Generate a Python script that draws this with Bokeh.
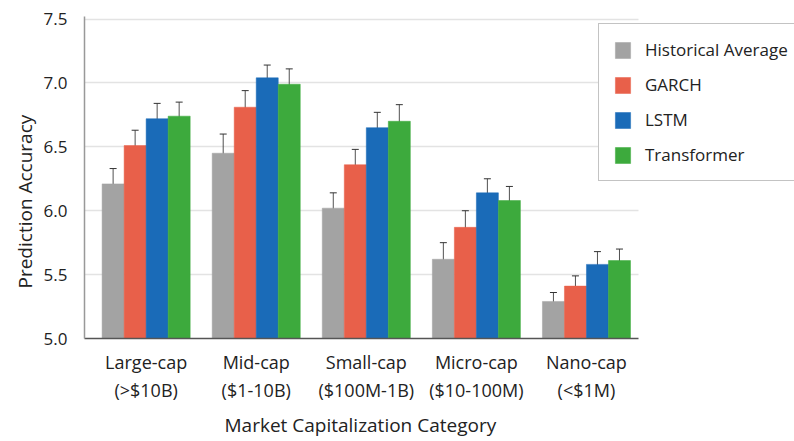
from bokeh.plotting import figure
from bokeh.models import ColumnDataSource, Whisker, Legend, LegendItem, TeeHead, FixedTicker, Title
from bokeh.embed import file_html
from bokeh.resources import INLINE

categories = ["Large-cap\n(>$10B)", "Mid-cap\n($1-10B)", "Small-cap\n($100M-1B)",
              "Micro-cap\n($10-100M)", "Nano-cap\n(<$1M)"]
series = ["Historical Average", "GARCH", "LSTM", "Transformer"]
hist = [6.21, 6.45, 6.02, 5.62, 5.29]
hist_err = [0.12, 0.15, 0.12, 0.13, 0.07]
garch = [6.51, 6.81, 6.36, 5.87, 5.41]
garch_err = [0.12, 0.13, 0.12, 0.13, 0.08]
lstm = [6.72, 7.04, 6.65, 6.14, 5.58]
lstm_err = [0.12, 0.10, 0.12, 0.11, 0.10]
transformer = [6.74, 6.99, 6.70, 6.08, 5.61]
transformer_err = [0.11, 0.12, 0.13, 0.11, 0.09]
y_ticks = [5.0, 5.5, 6.0, 6.5, 7.0, 7.5]
x_title = "Market Capitalization Category"
y_title = "Prediction Accuracy"

values = [hist, garch, lstm, transformer]
errors = [hist_err, garch_err, lstm_err, transformer_err]
colors = ["#a3a3a3", "#e8604a", "#1a6bb8", "#3daa3d"]
offsets = [-0.3, -0.1, 0.1, 0.3]
positions = list(range(len(categories)))

FONT = "Open Sans"
X_LEFT, X_AXIS_END = -0.56, 4.476

p = figure(x_range=(X_LEFT, 5.89), y_range=(5.0, 7.52),
           width=794, height=441, output_backend="svg", toolbar_location=None,
           min_border_left=84, min_border_right=0, min_border_top=16,
           min_border_bottom=101, background_fill_color="white",
           border_fill_color="white", outline_line_color=None)

items = []
for name, vals, errs, col, off in zip(series, values, errors, colors, offsets):
    xs = [x + off for x in positions]
    src = ColumnDataSource(dict(x=xs, val=vals,
                                upper=[v + e for v, e in zip(vals, errs)],
                                lower=[v - e for v, e in zip(vals, errs)]))
    r = p.vbar(x="x", top="val", bottom=5.0, width=0.2,
               source=src, fill_color=col, line_color=col, line_width=0.5)
    w = Whisker(base="x", upper="upper", lower="lower",
                source=src, line_color="#333333", line_alpha=0.85, line_width=1,
                upper_head=TeeHead(size=7, line_color="#333333", line_width=1),
                lower_head=TeeHead(size=7, line_color="#333333", line_width=1))
    p.add_layout(w)
    items.append(LegendItem(label=name, renderers=[r]))

legend = Legend(items=items, location=(514, 157), orientation="vertical",
                label_text_font=FONT, label_text_font_size="17px",
                label_text_color="#222222",
                glyph_width=19, glyph_height=20, spacing=12, padding=14,
                label_standoff=13, margin=0,
                border_line_color="#888888", border_line_width=1,
                background_fill_color="white", background_fill_alpha=1.0)
p.add_layout(legend, "center")

p.xgrid.grid_line_color = None
p.ygrid.grid_line_color = "#e3e3e3"
p.ygrid.grid_line_width = 1.5
p.ygrid.cross_bounds = (X_LEFT, X_AXIS_END)
p.yaxis.ticker = FixedTicker(ticks=y_ticks)
p.yaxis.major_label_overrides = {t: f"{t:.1f}" for t in y_ticks}
p.xaxis.ticker = FixedTicker(ticks=positions)
p.xaxis.major_label_overrides = {i: c for i, c in zip(positions, categories)}
p.xaxis.bounds = (X_LEFT, X_AXIS_END)

for ax in (p.xaxis, p.yaxis):
    ax.major_tick_line_color = None
    ax.minor_tick_line_color = None
    ax.major_label_text_font = FONT
    ax.major_label_text_color = "#222222"

p.xaxis.major_label_text_font_size = "18px"
p.yaxis.major_label_text_font_size = "17px"
p.xaxis.axis_line_color = "#555555"
p.xaxis.axis_line_width = 1.5
p.yaxis.axis_line_color = "#999999"
p.yaxis.axis_line_width = 1.5
p.xaxis.major_label_standoff = 5
p.yaxis.major_label_standoff = 11

xt = Title(text=x_title, align="left", offset=140, text_font=FONT,
           text_font_size="19px", text_font_style="normal", text_color="#222222",
           standoff=8)
p.add_layout(xt, "below")
yt = Title(text=y_title, align="left", offset=50, text_font=FONT,
           text_font_size="19px", text_font_style="normal", text_color="#222222",
           standoff=6)
p.add_layout(yt, "left")

open("out.html", "w").write(file_html(p, INLINE))
